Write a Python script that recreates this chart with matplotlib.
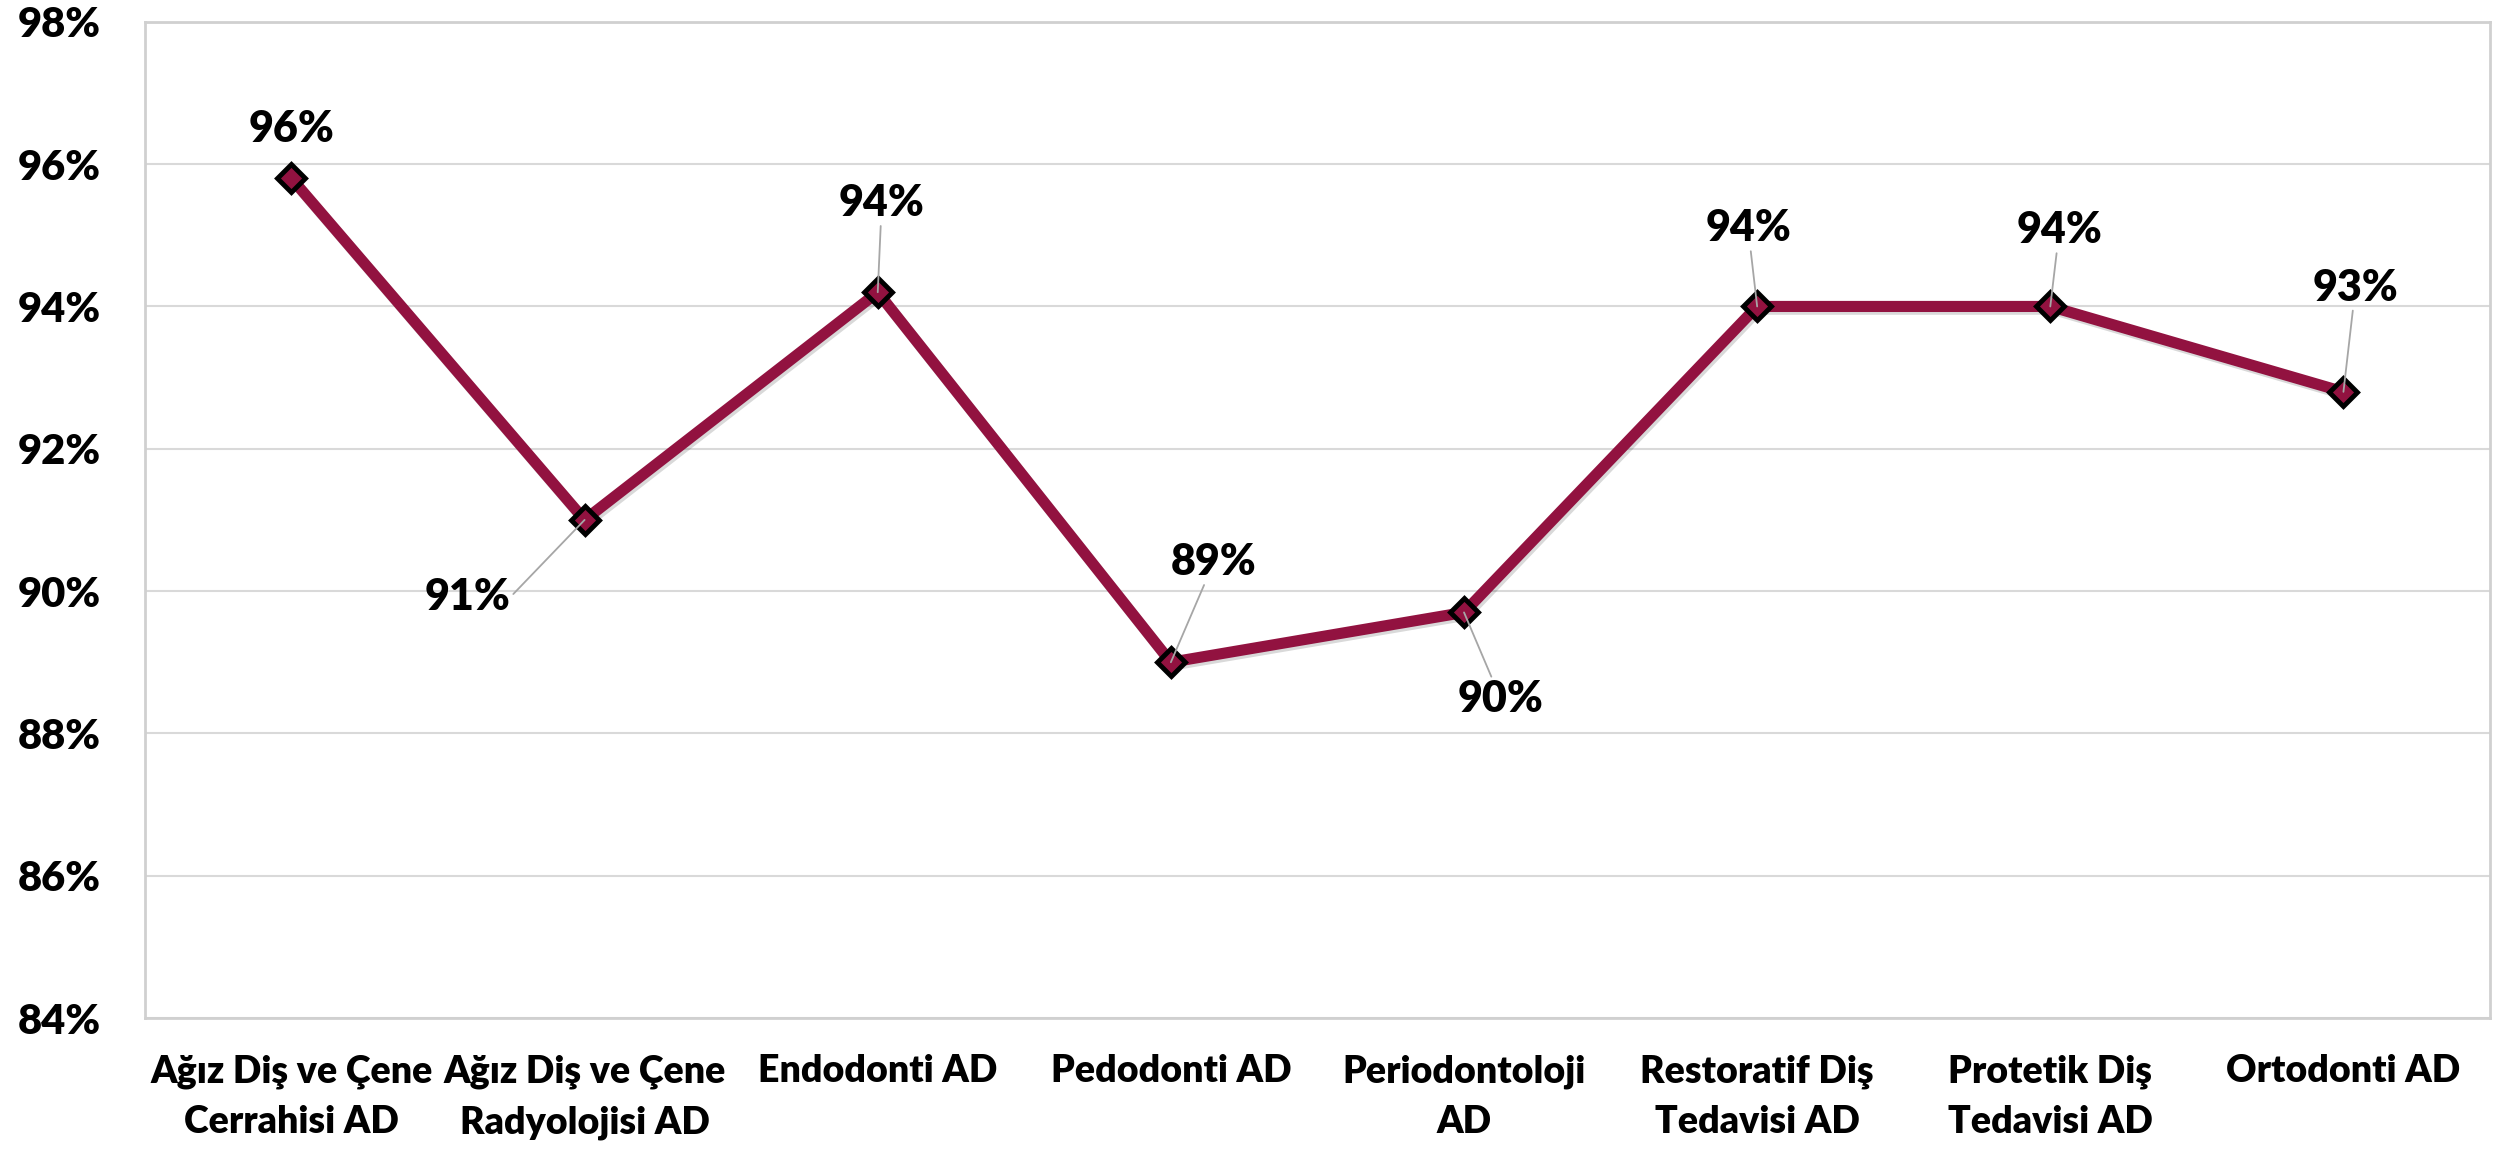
import numpy as np
import matplotlib.pyplot as plt
import matplotlib.patheffects as pe

# Ana bilim dallari ve oranlar (%)
bolumler = ["Ağız Diş ve Çene\nCerrahisi AD", "Ağız Diş ve Çene\nRadyolojisi AD",
            "Endodonti AD", "Pedodonti AD", "Periodontoloji\nAD",
            "Restoratif Diş\nTedavisi AD", "Protetik Diş\nTedavisi AD", "Ortodonti AD"]
oranlar = [95.8, 91.0, 94.2, 89.0, 89.7, 94.0, 94.0, 92.8]
# etiket kaydirmalari (piksel)
etiket_dx = [0, -117, 4, 43, 37, -9, 9, 12]
etiket_dy = [49, -77, 89, 100, -87, 78, 76, 104]
cizgi = [False, True, True, True, True, True, True, True]

plt.rcParams['font.family'] = ['Lato', 'DejaVu Sans']
plt.rcParams['font.weight'] = 'bold'

renk = "#921240"
fig = plt.figure(figsize=(24.98, 11.49), dpi=100)
ax = fig.add_axes([0.058, 0.114, 0.9388, 0.867])

x = np.arange(len(bolumler))
ax.plot(x, oranlar, "-", color=renk, lw=8, zorder=3,
        path_effects=[pe.SimpleLineShadow(offset=(1.5, -2), alpha=0.15), pe.Normal()])
ax.plot(x, oranlar, "D", ms=14, mfc=renk, mec="black", mew=3.5, zorder=4)

for i, v in enumerate(oranlar):
    if cizgi[i]:
        rel = (1, 0.5) if etiket_dx[i] < -50 else (0.5, 0.5)
        ax.annotate(f"{v:.0f}%", (i, v), xytext=(etiket_dx[i], etiket_dy[i]),
                    textcoords="offset pixels", ha="center", va="center",
                    fontsize=31, fontweight="heavy", zorder=5,
                    arrowprops=dict(arrowstyle="-", color="#A6A6A6", lw=1.3,
                                    shrinkA=0, shrinkB=0, relpos=rel))
    else:
        ax.annotate(f"{v:.0f}%", (i, v), xytext=(etiket_dx[i], etiket_dy[i]),
                    textcoords="offset pixels", ha="center", va="center",
                    fontsize=31, fontweight="heavy", zorder=5)

ax.set_xlim(-0.5, len(bolumler) - 0.5)
ax.set_ylim(84, 98)
ax.set_yticks(np.arange(84, 99, 2))
ax.set_yticklabels([f"{t}%" for t in range(84, 99, 2)], fontsize=30, fontweight="heavy")
ax.set_xticks(x)
ax.set_xticklabels(bolumler, fontsize=27, fontweight="heavy", linespacing=1.6)
ax.tick_params(axis="y", length=0, pad=32)
ax.tick_params(axis="x", length=0, pad=26)
ax.grid(axis="y", color="#D9D9D9", lw=1.5)
ax.set_axisbelow(True)
for s in ax.spines.values():
    s.set_color("#D0D0D0")
    s.set_linewidth(2)

plt.savefig("out.png", dpi=100)
